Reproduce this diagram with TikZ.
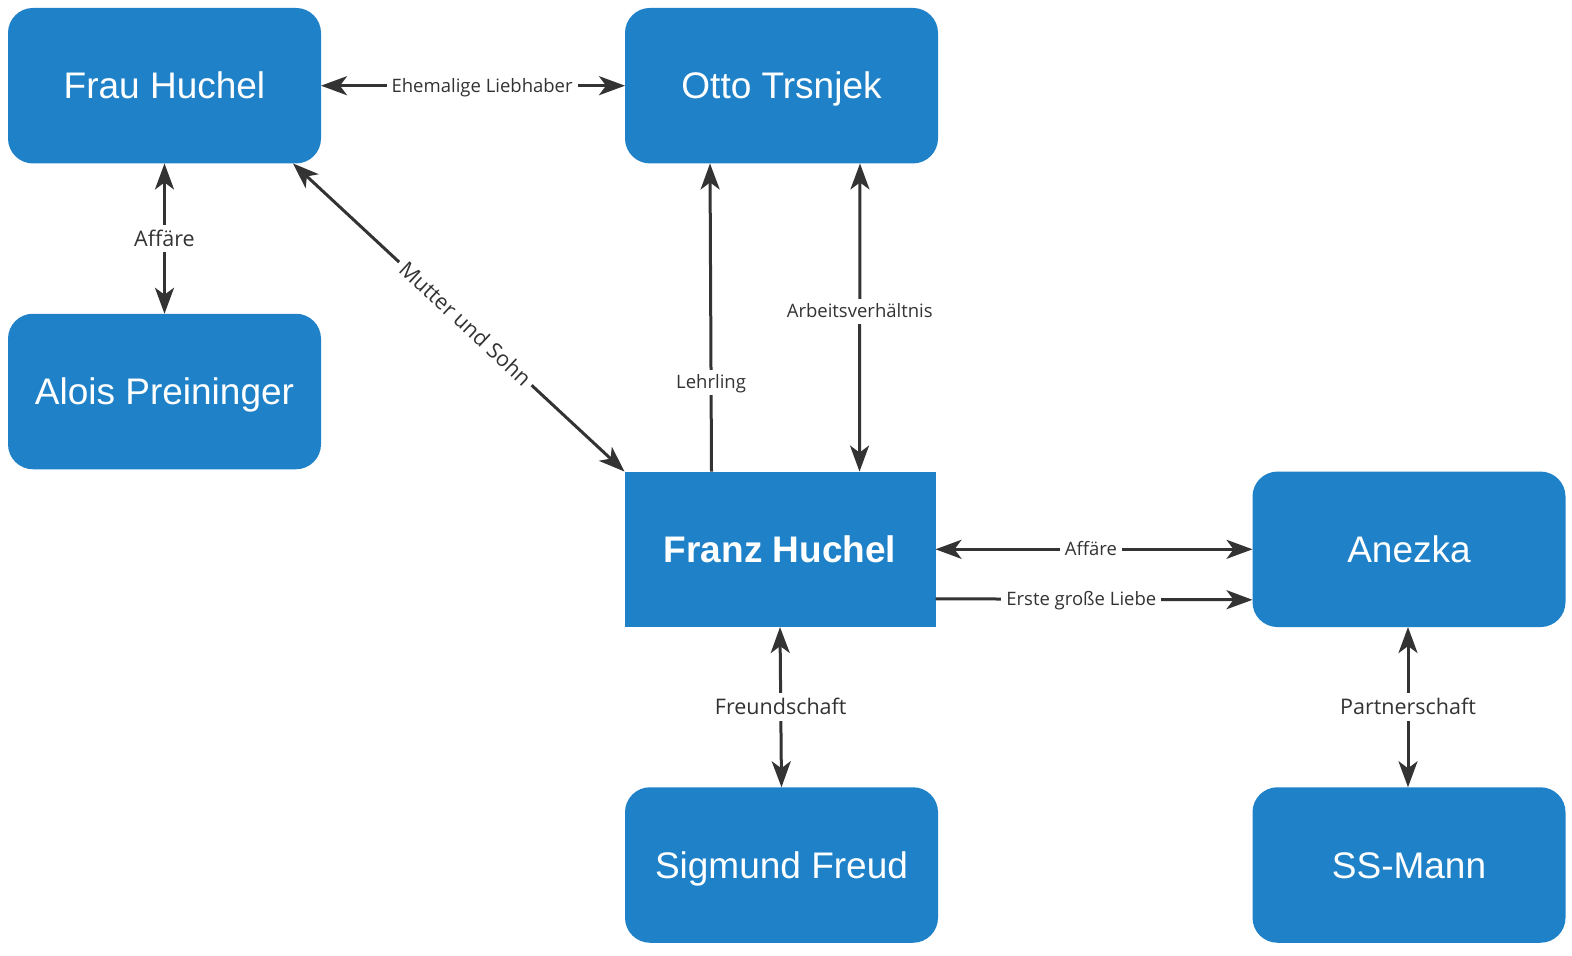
\documentclass[tikz,border=0pt]{standalone}
\usepackage{fontspec}
\setmainfont{Liberation Sans}
\newfontfamily\labfont{Open Sans}
\usetikzlibrary{arrows.meta,calc}
\definecolor{boxblue}{RGB}{31,130,201}
\definecolor{ink}{RGB}{51,51,51}
\begin{document}
\begin{tikzpicture}[x=1pt,y=-1pt,
  person/.style={fill=boxblue, text=white, font=\fontsize{37}{41}\selectfont,
    rounded corners=25pt, minimum width=313pt, minimum height=155.5pt,
    text height=26.5pt, text depth=0pt,
    inner sep=0pt, outer sep=0pt},
  hero/.style={person, rounded corners=0pt, font=\fontsize{37}{41}\selectfont\bfseries, minimum width=311pt},
  tip/.tip={Stealth[length=26pt,width=19pt,inset=7pt]},
  both/.style={draw=ink, line width=3pt, tip-tip},
  one/.style={draw=ink, line width=3pt, -tip},
  lab/.style={fill=white, text=ink, font=\labfont\fontsize{18.5}{22}\selectfont,
    text height=13.2pt, text depth=0pt, inner xsep=5pt, inner ysep=6pt},
  labbig/.style={lab, font=\labfont\fontsize{21.5}{25}\selectfont, text height=15.4pt}
]
\useasboundingbox (0,0) rectangle (1572,956);

\node[person] (fh) at (164.5,85.7) {Frau Huchel};
\node[person] (ot) at (781.5,85.7) {Otto Trsnjek};
\node[person] (ap) at (164.5,391.5) {Alois Preininger};
\node[hero]   (fr) at (780,549.3) {Franz Huchel};
\node[person] (an) at (1409,549.3) {Anezka};
\node[person] (sf) at (781.5,865) {Sigmund Freud};
\node[person] (ss) at (1409,865) {SS-Mann};

\draw[both] (fh.east) -- node[lab,pos=0.53] {Ehemalige Liebhaber} (ot.west);
\draw[both] (fh.south) -- node[labbig] {Affäre} (ap.north);
\draw[both] ($(fh.south east)+(-28,0)$) -- node[labbig,sloped,pos=0.52,inner ysep=2pt] {Mutter und Sohn} (fr.north west);
\draw[one] ($(fr.north west)+(87,0)$) -- node[lab,pos=0.29] {Lehrling} ($(ot.south west)+(85,0)$);
\draw[both] ($(ot.south west)+(235,0)$) -- node[lab,pos=0.48] {Arbeitsverhältnis} ($(fr.north west)+(235,0)$);
\draw[both] (fr.east) -- node[lab,pos=0.49,inner ysep=2pt] {Affäre} (an.west);
\draw[one] ($(fr.east)+(0,49.5)$) -- node[lab,pos=0.46,inner ysep=2pt] {Erste große Liebe} ($(an.west)+(0,50.5)$);
\draw[both] (fr.south) -- node[labbig] {Freundschaft} (sf.north);
\draw[both] ($(an.south)+(-1,0)$) -- node[labbig] {Partnerschaft} ($(ss.north)+(-1,0)$);
\end{tikzpicture}
\end{document}
